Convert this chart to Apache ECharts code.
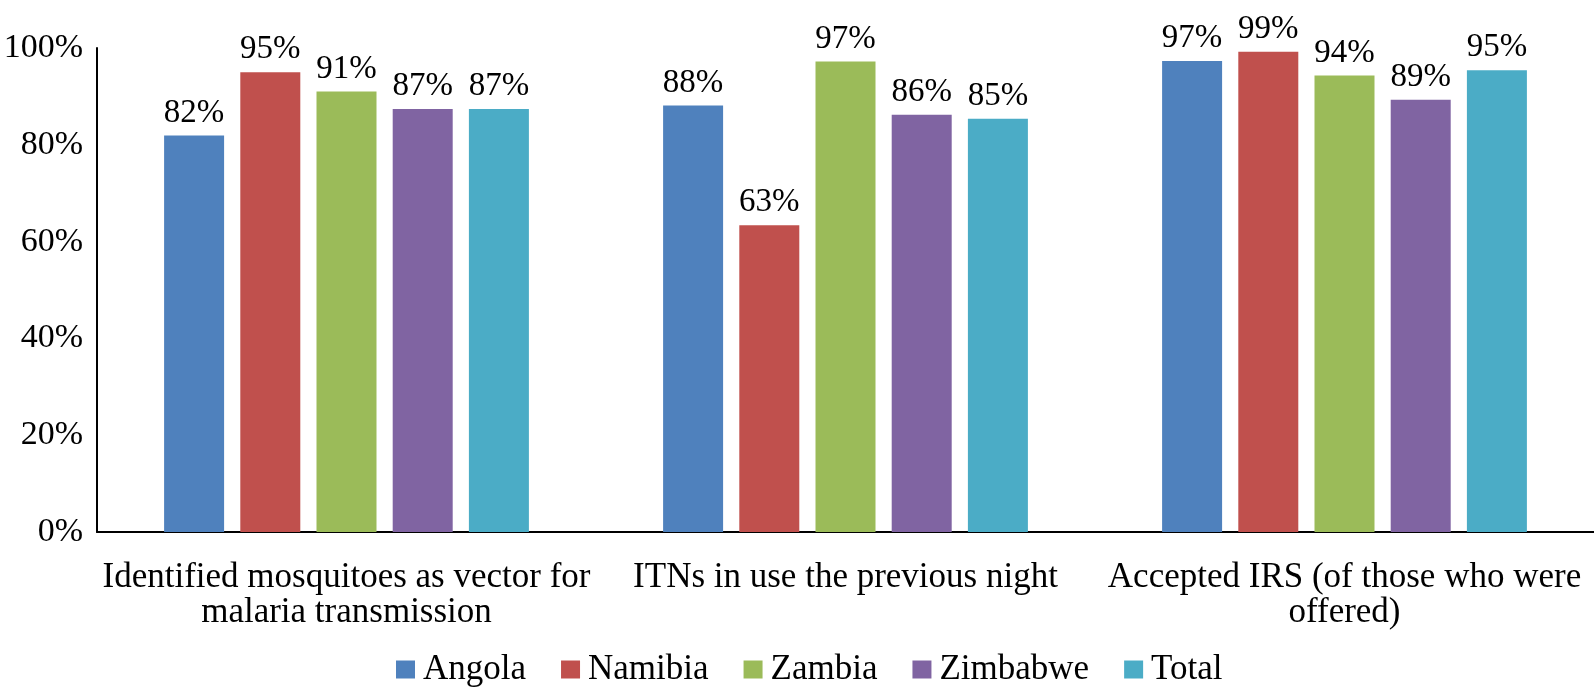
<!DOCTYPE html>
<html>
<head>
<meta charset="utf-8">
<script src="https://cdn.jsdelivr.net/npm/echarts@6/dist/echarts.min.js"></script>
<style>
  html, body { margin: 0; padding: 0; background: #fff; }
  #chart { width: 1594px; height: 691px; }
</style>
</head>
<body>
<div id="chart"></div>
<script>
// data (percent)
const categories = [
  'Identified mosquitoes as vector for\nmalaria transmission',
  'ITNs in use the previous night',
  'Accepted IRS (of those who were\noffered)'
];
const seriesNames = ['Angola', 'Namibia', 'Zambia', 'Zimbabwe', 'Total'];
const angola = [81.9, 88.1, 97.3];
const namibia = [95.0, 63.4, 99.2];
const zambia = [91.0, 97.2, 94.3];
const zimbabwe = [87.4, 86.2, 89.3];
const total = [87.4, 85.4, 95.4];
const yTicks = [0, 20, 40, 60, 80, 100];

const colors = ['#4F81BD', '#C0504D', '#9BBB59', '#8064A2', '#4BACC6'];
const font = 'Liberation Serif';
const values = [angola, namibia, zambia, zimbabwe, total];

const chart = echarts.init(document.getElementById('chart'));
chart.setOption({
  animation: false,
  color: colors,
  textStyle: { fontFamily: font, color: '#000' },
  grid: { left: 97, right: 0, top: 48, bottom: 159, containLabel: false },
  legend: {
    data: seriesNames,
    left: 391,
    top: 647,
    itemWidth: 19,
    itemHeight: 18,
    itemGap: 35,
    icon: 'rect',
    textStyle: { fontFamily: font, fontSize: 35, color: '#000', padding: [0, 0, 0, 3] }
  },
  xAxis: {
    type: 'category',
    data: categories,
    axisLine: { lineStyle: { color: '#000', width: 2 } },
    axisTick: { show: false },
    axisLabel: { fontFamily: font, fontSize: 35, color: '#000', lineHeight: 35, margin: 28, interval: 0 }
  },
  yAxis: {
    type: 'value',
    min: yTicks[0],
    max: yTicks[yTicks.length - 1],
    interval: 20,
    splitLine: { show: false },
    axisLine: { show: true, lineStyle: { color: '#000', width: 2 } },
    axisTick: { show: false },
    axisLabel: {
      fontFamily: font, fontSize: 34, color: '#000', margin: 14,
      formatter: v => v + '%'
    }
  },
  series: seriesNames.map((name, i) => ({
    name: name,
    type: 'bar',
    data: values[i],
    barWidth: 60,
    barGap: '27%',
    itemStyle: { color: colors[i] },
    label: {
      show: true,
      position: 'top',
      distance: 6,
      fontFamily: font,
      fontSize: 33,
      color: '#000',
      formatter: p => Math.round(p.value) + '%'
    }
  }))
});
</script>
</body>
</html>
